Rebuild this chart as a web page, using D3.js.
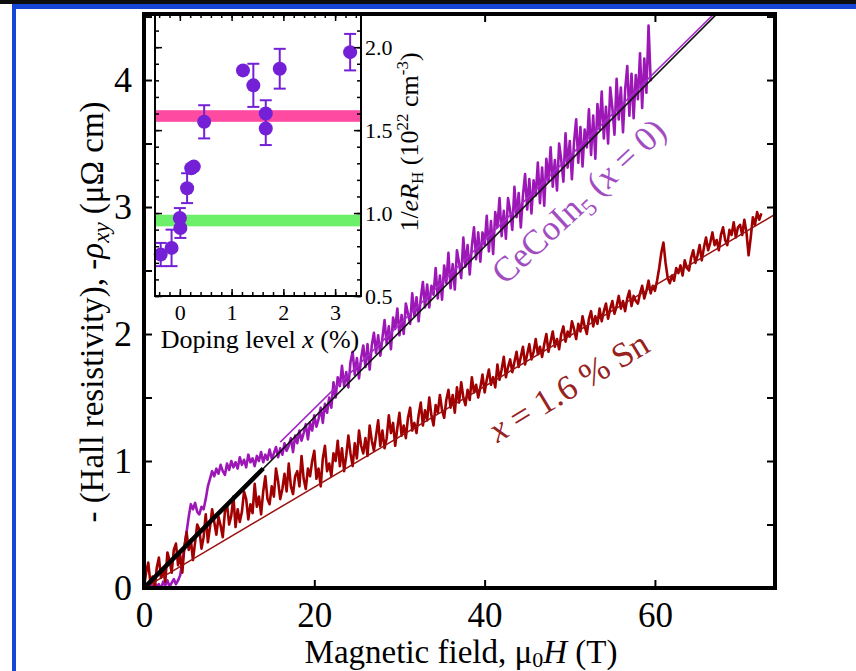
<!DOCTYPE html>
<html>
<head>
<meta charset="utf-8">
<script src="https://cdnjs.cloudflare.com/ajax/libs/d3/7.8.5/d3.min.js"></script>
<style>
  html, body { margin: 0; padding: 0; background: #fff; }
  svg { display: block; font-family: "Liberation Serif", "Times New Roman", serif; }
</style>
</head>
<body>
<svg id="chart" width="856" height="671"></svg>
<script>
// ---- main panel: -rho_xy vs field, traces sampled every 0.25 T from 0 T (one group = 1 T)
const fieldStep = 0.25;

// CeCoIn5 (x = 0)
const pureRho = [
  0.00, 0.02, -0.01, 0.03,   0.00, 0.04, 0.01, 0.03,   -0.01, 0.05, 0.02, 0.06,
  0.01, 0.04, 0.07, 0.03,    0.06, 0.10, 0.20, 0.32,   0.44, 0.56, 0.66, 0.62,
  0.67, 0.60, 0.58, 0.64,    0.62, 0.70, 0.80, 0.86,   0.92, 0.88, 0.94, 0.90,
  0.97, 0.92, 0.89, 0.98,    0.93, 1.00, 0.95, 0.99,   0.94, 1.03, 0.97, 1.01,
  0.95, 1.05, 0.99, 1.02,    0.96, 1.04, 1.00, 1.07,   0.99, 1.05, 1.01, 1.09,
  1.02, 1.06, 1.11, 1.03,    1.10, 1.05, 1.14, 1.08,   1.12, 1.18, 1.07, 1.20,
  1.14, 1.24, 1.16, 1.22,    1.29, 1.17, 1.30, 1.24,   1.36, 1.27, 1.33, 1.42,
  1.30, 1.45, 1.38, 1.50,    1.42, 1.62, 1.50, 1.66,   1.59, 1.75, 1.59, 1.70,
  1.58, 1.78, 1.86, 1.68,    1.81, 1.65, 1.81, 1.91,   1.74, 1.92, 1.72, 1.91,
  2.01, 1.85, 1.99, 1.83,    1.97, 2.11, 1.92, 2.06,   1.88, 2.13, 2.04, 2.20,
  1.99, 2.15, 2.00, 2.24,    2.16, 2.08, 2.32, 2.14,   2.29, 2.10, 2.28, 2.41,
  2.21, 2.39, 2.21, 2.38,    2.31, 2.52, 2.28, 2.46,   2.27, 2.54, 2.40, 2.64,
  2.36, 2.55, 2.35, 2.66,    2.56, 2.44, 2.76, 2.53,   2.70, 2.47, 2.69, 2.84,
  2.59, 2.80, 2.57, 2.80,    2.70, 2.93, 2.65, 2.89,   2.63, 2.96, 2.84, 3.07,
  2.77, 2.97, 2.75, 3.07,    2.97, 2.82, 3.16, 2.92,   3.11, 2.84, 3.09, 3.26,
  2.98, 3.22, 2.95, 3.21,    3.09, 3.35, 3.03, 3.31,   3.01, 3.38, 3.20, 3.47,
  3.16, 3.37, 3.13, 3.50,    3.37, 3.20, 3.58, 3.31,   3.52, 3.22, 3.51, 3.69,
  3.35, 3.63, 3.32, 3.61,    3.47, 3.77, 3.41, 3.72,   3.38, 3.81, 3.61, 3.91,
  3.54, 3.79, 3.50, 3.94,    3.78, 3.57, 4.01, 3.69,   3.94, 3.59, 3.92, 4.11,
  3.72, 4.05, 3.70, 4.04,    3.85, 4.21, 3.78, 4.17,   3.90, 4.43, 3.99
];

// x = 1.6 % Sn
const snRho = [
  0.01, 0.12, 0.20, 0.04,    0.09, -0.01, 0.16, 0.24,  0.08, 0.14, 0.05, 0.28,
  0.22, 0.12, 0.30, 0.35,    0.18, 0.26, 0.12, 0.33,   0.44, 0.30, 0.38, 0.22,
  0.36, 0.50, 0.46, 0.31,    0.40, 0.58, 0.36, 0.48,   0.62, 0.52, 0.42, 0.56,
  0.49, 0.40, 0.60, 0.66,    0.50, 0.57, 0.72, 0.48,   0.62, 0.52, 0.60, 0.76,
  0.70, 0.54, 0.66, 0.59,    0.82, 0.64, 0.72, 0.58,   0.76, 0.88, 0.70, 0.66,
  0.80, 0.72, 0.94, 0.84,    0.70, 0.78, 0.90, 0.76,   0.98, 0.80, 0.74, 0.88,
  0.92, 0.80, 1.04, 0.86,    0.78, 0.94, 0.88, 1.00,   1.08, 0.86, 0.94, 0.80,
  1.02, 1.12, 0.92, 0.98,    0.88, 1.06, 1.00, 1.16,   0.96, 1.10, 0.92, 1.04,
  1.20, 1.06, 0.96, 1.14,    1.02, 1.24, 1.12, 1.06,   1.18, 1.04, 1.28, 1.16,
  1.08, 1.20, 1.32, 1.12,    1.24, 1.10, 1.18, 1.36,   1.22, 1.30, 1.12, 1.26,
  1.38, 1.20, 1.28, 1.18,    1.34, 1.42, 1.24, 1.30,   1.22, 1.36, 1.46, 1.28,
  1.40, 1.32, 1.50, 1.36,    1.28, 1.44, 1.38, 1.52,   1.40, 1.34, 1.48, 1.56,
  1.42, 1.52, 1.38, 1.58,    1.46, 1.62, 1.50, 1.44,   1.56, 1.48, 1.66, 1.54,
  1.60, 1.50, 1.58, 1.68,    1.54, 1.64, 1.72, 1.60,   1.66, 1.58, 1.76, 1.64,
  1.72, 1.82, 1.66, 1.74,    1.80, 1.70, 1.78, 1.86,   1.74, 1.82, 1.90, 1.76,
  1.84, 1.92, 1.80, 1.86,    1.96, 1.84, 1.90, 1.82,   1.92, 2.00, 1.86, 1.94,
  2.02, 1.90, 1.96, 1.88,    2.00, 2.06, 1.94, 2.02,   1.98, 2.10, 2.04, 1.96,
  2.08, 2.02, 2.14, 2.06,    2.00, 2.12, 2.18, 2.06,   2.14, 2.08, 2.20, 2.10,
  2.18, 2.24, 2.12, 2.20,    2.26, 2.16, 2.22, 2.30,   2.20, 2.26, 2.18, 2.28,
  2.34, 2.22, 2.30, 2.26,    2.24, 2.32, 2.38, 2.28,   2.34, 2.42, 2.32, 2.38,
  2.34, 2.42, 2.52, 2.64,    2.72, 2.56, 2.44, 2.40,   2.46, 2.42, 2.52, 2.48,
  2.54, 2.46, 2.58, 2.52,    2.50, 2.60, 2.66, 2.56,   2.62, 2.70, 2.58, 2.68,
  2.76, 2.66, 2.72, 2.80,    2.70, 2.74, 2.66, 2.78,   2.84, 2.74, 2.70, 2.82,
  2.78, 2.88, 2.76, 2.84,    2.86, 2.78, 2.90, 2.80,   2.62, 2.76, 2.92, 2.86,
  2.96, 2.90, 2.95
];

// straight-line fits
const lowFieldSlope = 0.0672;   // black, through origin
const lowFieldThickTo = 14;     // T, heavy part of the black line
const pureSlope = 0.0662, pureOffset = 0.09, pureFitFrom = 16;
const snSlope = 0.0397;

const xTicks = [0, 20, 40, 60];
const yTicks = [0, 0.5, 1, 1.5, 2, 2.5, 3, 3.5, 4, 4.5];

// ---- inset: 1/eR_H vs doping
const dopingX  = [-0.37, -0.16, 0.00, 0.01, 0.14, 0.22, 0.27, 0.47, 1.22, 1.42, 1.66, 1.66, 1.93, 3.29];
const invRH    = [0.75, 0.79, 0.97, 0.91, 1.15, 1.27, 1.28, 1.55, 1.86, 1.77, 1.60, 1.51, 1.87, 1.97];
const invRHErr = [0.07, 0.11, 0.06, 0.06, 0.09, 0, 0, 0.10, 0, 0.13, 0.08, 0.10, 0.12, 0.11];
const pinkBand  = [1.55, 1.62];
const greenBand = [0.92, 0.99];
const insetXTicks = [0, 1, 2, 3];
const insetYTicks = [0.5, 1.0, 1.5, 2.0];

const svg = d3.select("#chart");

// page frame
svg.append("rect").attr("x", 0).attr("y", 0).attr("width", 856).attr("height", 4).attr("fill", "#0e0e0e");
svg.append("rect").attr("x", 12).attr("y", 4).attr("width", 844).attr("height", 5).attr("fill", "#1546d6");
svg.append("rect").attr("x", 12).attr("y", 4).attr("width", 4).attr("height", 667).attr("fill", "#1546d6");

const x = d3.scaleLinear().domain([0, 74.1]).range([144, 775]);
const y = d3.scaleLinear().domain([0, 4.52]).range([588, 14]);

svg.append("clipPath").attr("id", "plotclip").append("rect")
    .attr("x", 144).attr("y", 14).attr("width", 631).attr("height", 574);

const plot = svg.append("g").attr("clip-path", "url(#plotclip)");

const trace = d3.line().x((d, i) => x(i * fieldStep)).y(d => y(d));
const seg = d3.line().x(d => x(d[0])).y(d => y(d[1]));
const xMax = x.domain()[1];

plot.append("path").datum(pureRho).attr("d", trace)
    .attr("fill", "none").attr("stroke", "#9c17b6").attr("stroke-width", 2.6).attr("stroke-linejoin", "round");
plot.append("path").datum(snRho).attr("d", trace)
    .attr("fill", "none").attr("stroke", "#a00000").attr("stroke-width", 2.6).attr("stroke-linejoin", "round");

plot.append("path").datum([[0, 0], [xMax, snSlope * xMax]]).attr("d", seg)
    .attr("fill", "none").attr("stroke", "#9a1212").attr("stroke-width", 1.5);
plot.append("path").datum([[pureFitFrom, pureOffset + pureSlope * pureFitFrom], [xMax, pureOffset + pureSlope * xMax]]).attr("d", seg)
    .attr("fill", "none").attr("stroke", "#a42cc6").attr("stroke-width", 1.6);
plot.append("path").datum([[0, 0], [xMax, lowFieldSlope * xMax]]).attr("d", seg)
    .attr("fill", "none").attr("stroke", "#111").attr("stroke-width", 1.6);
plot.append("path").datum([[0, 0], [lowFieldThickTo, lowFieldSlope * lowFieldThickTo]]).attr("d", seg)
    .attr("fill", "none").attr("stroke", "#000").attr("stroke-width", 4.5);

// axes (ticks inward)
function styleAxis(g, size) {
  g.select(".domain").remove();
  g.selectAll(".tick line").attr("stroke", "#000").attr("stroke-width", 2);
  g.selectAll(".tick text").attr("font-family", "Liberation Serif").attr("font-size", size).attr("fill", "#000");
}

svg.append("g").attr("transform", "translate(0,588)")
    .call(d3.axisBottom(x).tickValues(xTicks).tickSizeInner(-8).tickSizeOuter(0).tickPadding(14))
    .call(g => styleAxis(g, 35));
svg.append("g").attr("transform", "translate(0,14)")
    .call(d3.axisTop(x).tickValues(xTicks).tickSizeInner(-8).tickSizeOuter(0).tickFormat(""))
    .call(g => styleAxis(g, 35));
svg.append("g").attr("transform", "translate(144,0)")
    .call(d3.axisLeft(y).tickValues(yTicks).tickSizeInner(-8).tickSizeOuter(0).tickPadding(12)
      .tickFormat(d => Number.isInteger(d) ? d : ""))
    .call(g => styleAxis(g, 36));
svg.append("g").attr("transform", "translate(775,0)")
    .call(d3.axisRight(y).tickValues(yTicks).tickSizeInner(-8).tickSizeOuter(0).tickFormat(""))
    .call(g => styleAxis(g, 36));

// curve labels
const pureLabel = svg.append("text")
    .attr("transform", `translate(${x(42.4)},${y(2.38)}) rotate(-43)`)
    .attr("font-size", 35).attr("fill", "#a24cc2");
pureLabel.append("tspan").text("CeCoIn");
pureLabel.append("tspan").attr("dy", 8).attr("font-size", 24).text("5");
pureLabel.append("tspan").attr("dy", -8).text(" (");
pureLabel.append("tspan").attr("font-style", "italic").text("x");
pureLabel.append("tspan").text(" = 0)");

const snLabel = svg.append("text")
    .attr("transform", `translate(${x(41.5)},${y(1.14)}) rotate(-31)`)
    .attr("font-size", 35).attr("fill", "#962222");
snLabel.append("tspan").attr("font-style", "italic").text("x");
snLabel.append("tspan").text(" = 1.6 % Sn");

// axis titles
const yTitle = svg.append("text")
    .attr("transform", "translate(103,312) rotate(-90)")
    .attr("text-anchor", "middle").attr("font-size", 33);
yTitle.append("tspan").text("- (Hall resistivity), -");
yTitle.append("tspan").attr("font-style", "italic").text("ρ");
yTitle.append("tspan").attr("font-style", "italic").attr("font-size", 23).attr("dy", 6).text("xy");
yTitle.append("tspan").attr("dy", -6).text(" (μΩ cm)");

const xTitle = svg.append("text")
    .attr("x", 461).attr("y", 663)
    .attr("text-anchor", "middle").attr("font-size", 33);
xTitle.append("tspan").text("Magnetic field, μ");
xTitle.append("tspan").attr("font-size", 22).attr("dy", 4).text("0");
xTitle.append("tspan").attr("font-style", "italic").attr("dy", -4).text("H");
xTitle.append("tspan").text(" (T)");

// ---- inset
const xi = d3.scaleLinear().domain([-0.48, 3.5]).range([155, 361]);
const yi = d3.scaleLinear().domain([0.5, 2.2]).range([296, 14]);

svg.append("rect").attr("x", 155).attr("y", 14).attr("width", 206).attr("height", 282).attr("fill", "#fff");

svg.append("rect").attr("x", 155).attr("width", 206)
    .attr("y", yi(pinkBand[1])).attr("height", yi(pinkBand[0]) - yi(pinkBand[1]))
    .attr("fill", "#ff4aa2");
svg.append("rect").attr("x", 155).attr("width", 206)
    .attr("y", yi(greenBand[1])).attr("height", yi(greenBand[0]) - yi(greenBand[1]))
    .attr("fill", "#6cf06a");

const pts = dopingX.map((d, i) => ({x: d, v: invRH[i], e: invRHErr[i]}));
const violet = "#7420d6";
const eb = svg.append("g").attr("stroke", violet).attr("stroke-width", 2).attr("fill", "none");
pts.filter(p => p.e > 0).forEach(p => {
  eb.append("line").attr("x1", xi(p.x)).attr("x2", xi(p.x)).attr("y1", yi(p.v - p.e)).attr("y2", yi(p.v + p.e));
  [p.v - p.e, p.v + p.e].forEach(v => {
    eb.append("line").attr("x1", xi(p.x) - 6).attr("x2", xi(p.x) + 6).attr("y1", yi(v)).attr("y2", yi(v));
  });
});
svg.append("g").selectAll("circle").data(pts).join("circle")
    .attr("cx", p => xi(p.x)).attr("cy", p => yi(p.v)).attr("r", 7).attr("fill", violet);

function insetTicks(g) {
  g.select(".domain").remove();
  g.selectAll(".tick line").attr("stroke", "#000").attr("stroke-width", 1.5);
  g.selectAll(".tick text").attr("font-family", "Liberation Serif").attr("font-size", 22).attr("fill", "#000");
}
const minorX = d3.range(-0.4, 3.41, 0.2);
const minorY = d3.range(0.5, 2.21, 0.1);

svg.append("g").attr("transform", "translate(0,296)")
    .call(d3.axisBottom(xi).tickValues(minorX).tickSizeInner(-4).tickSizeOuter(0).tickFormat("")).call(insetTicks);
svg.append("g").attr("transform", "translate(0,296)")
    .call(d3.axisBottom(xi).tickValues(insetXTicks).tickSizeInner(-7).tickSizeOuter(0).tickPadding(8)
      .tickFormat(d3.format("d"))).call(insetTicks);
svg.append("g").attr("transform", "translate(0,14)")
    .call(d3.axisTop(xi).tickValues(minorX).tickSizeInner(-4).tickSizeOuter(0).tickFormat("")).call(insetTicks);
svg.append("g").attr("transform", "translate(0,14)")
    .call(d3.axisTop(xi).tickValues(insetXTicks).tickSizeInner(-7).tickSizeOuter(0).tickFormat("")).call(insetTicks);
svg.append("g").attr("transform", "translate(361,0)")
    .call(d3.axisRight(yi).tickValues(minorY).tickSizeInner(-4).tickSizeOuter(0).tickFormat("")).call(insetTicks);
svg.append("g").attr("transform", "translate(361,0)")
    .call(d3.axisRight(yi).tickValues(insetYTicks).tickSizeInner(-7).tickSizeOuter(0).tickPadding(4)
      .tickFormat(d3.format(".1f"))).call(insetTicks);
svg.append("g").attr("transform", "translate(155,0)")
    .call(d3.axisLeft(yi).tickValues(minorY).tickSizeInner(-4).tickSizeOuter(0).tickFormat("")).call(insetTicks);
svg.append("g").attr("transform", "translate(155,0)")
    .call(d3.axisLeft(yi).tickValues(insetYTicks).tickSizeInner(-7).tickSizeOuter(0).tickFormat("")).call(insetTicks);

svg.append("rect").attr("x", 155).attr("y", 14).attr("width", 206).attr("height", 282)
    .attr("fill", "none").attr("stroke", "#000").attr("stroke-width", 2);

const dopTitle = svg.append("text").attr("x", 260).attr("y", 348)
    .attr("text-anchor", "middle").attr("font-size", 26);
dopTitle.append("tspan").text("Doping level ");
dopTitle.append("tspan").attr("font-style", "italic").text("x");
dopTitle.append("tspan").text(" (%)");

const nTitle = svg.append("text")
    .attr("transform", "translate(418,142) rotate(-90)")
    .attr("text-anchor", "middle").attr("font-size", 26);
nTitle.append("tspan").text("1/");
nTitle.append("tspan").attr("font-style", "italic").text("eR");
nTitle.append("tspan").attr("font-size", 17).attr("dy", 5).text("H");
nTitle.append("tspan").attr("dy", -5).text(" (10");
nTitle.append("tspan").attr("font-size", 17).attr("dy", -10).text("22");
nTitle.append("tspan").attr("dy", 10).text(" cm");
nTitle.append("tspan").attr("font-size", 17).attr("dy", -10).text("-3");
nTitle.append("tspan").attr("dy", 10).text(")");

// main frame on top
svg.append("rect").attr("x", 144).attr("y", 14).attr("width", 631).attr("height", 574)
    .attr("fill", "none").attr("stroke", "#000").attr("stroke-width", 4);
</script>
</body>
</html>
